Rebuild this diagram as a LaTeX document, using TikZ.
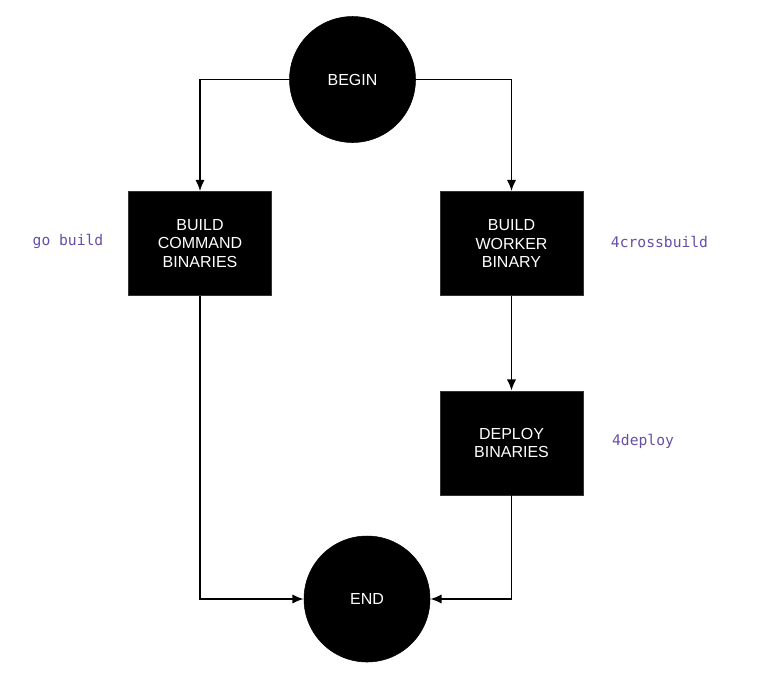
\documentclass[tikz,border=0pt]{standalone}
\usepackage{fontspec}
\setmainfont{Liberation Sans}
\newfontfamily\codefont{DejaVu Sans Mono}
\usetikzlibrary{arrows.meta}
\definecolor{codepurple}{RGB}{103,78,167}
\begin{document}
\begin{tikzpicture}[x=0.75pt,y=-0.75pt,
  term/.style={circle,fill=black,draw=black,minimum size=94.5pt,inner sep=0pt,text=white,font=\fontsize{12}{13.6}\selectfont},
  stepbox/.style={rectangle,fill=black,draw=black!80,minimum width=107.25pt,minimum height=78pt,inner sep=0pt,text=white,align=center,font=\fontsize{12}{13.6}\selectfont},
  codelabel/.style={text=codepurple,font=\codefont\fontsize{11}{12}\selectfont},
  conn/.style={line width=1.4pt,-{Latex[length=8.5pt,width=7pt]}}]
\useasboundingbox (0,0) rectangle (780,679);
\node[term] (begin) at (352.5,79.5) {BEGIN};
\node[term] (end) at (367,599) {END};
\node[stepbox] (cmd) at (200,243.5) {BUILD\\COMMAND\\BINARIES};
\node[stepbox] (worker) at (511.5,243.5) {BUILD\\WORKER\\BINARY};
\node[stepbox] (deploy) at (511.5,443) {DEPLOY\\BINARIES};
\node[codelabel] (l1) at (68,241.5) {go build};
\node[codelabel] (l2) at (659.5,241.5) {4crossbuild};
\node[codelabel] (l3) at (643,441.5) {4deploy};
\draw[conn] (begin.west) -| (cmd.north);
\draw[conn] (begin.east) -| (worker.north);
\draw[conn] (worker.south) -- (deploy.north);
\draw[conn] (cmd.south) |- (end.west);
\draw[conn] (deploy.south) |- (end.east);
\end{tikzpicture}
\end{document}
